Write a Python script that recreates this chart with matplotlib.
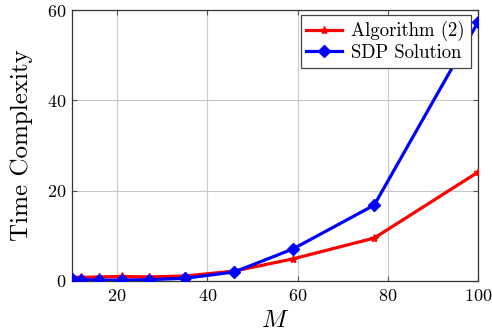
import matplotlib
matplotlib.use("Agg")
import matplotlib.pyplot as plt

# Runtime vs problem size M
M = [10, 12, 16, 21, 27, 35, 46, 59, 77, 100]
alg2 = [0.8, 0.8, 0.9, 1.0, 0.9, 1.1, 2.2, 4.9, 9.5, 24.1]
sdp = [0.5, 0.3, 0.2, 0.2, 0.3, 0.6, 2.0, 7.1, 16.8, 57.3]

plt.rcParams['font.family'] = 'cmr10'
plt.rcParams['mathtext.fontset'] = 'cm'
plt.rcParams['axes.formatter.use_mathtext'] = True

fig = plt.figure(figsize=(4.92, 3.36), dpi=100)
ax = fig.add_axes([0.1463, 0.1637, 0.8252, 0.8065])

ax.plot(M, alg2, color='red', lw=2.3, marker='*', ms=6, label='Algorithm (2)', zorder=3)
ax.plot(M, sdp, color='blue', lw=2.3, marker='D', ms=6.5, label='SDP Solution', zorder=4)

ax.set_xlim(10, 100)
ax.set_ylim(0, 60)
ax.set_xticks([20, 40, 60, 80, 100])
ax.set_yticks([0, 20, 40, 60])
ax.grid(True, color='#c8c8c8', lw=0.8)
ax.set_axisbelow(True)
ax.tick_params(direction='in', top=True, right=True, labelsize=13, color='#555555', pad=4)
ax.tick_params(axis='x', pad=5)
for s in ax.spines.values():
    s.set_color('#333333')
    s.set_linewidth(0.9)

ax.set_xlabel('$M$', fontsize=18, labelpad=4)
ax.set_ylabel('Time Complexity', fontsize=18, labelpad=10)

leg = ax.legend(loc='upper right', fontsize=13.5, fancybox=False, framealpha=1,
                edgecolor='#444444', handlelength=1.9, handletextpad=0.5,
                borderpad=0.3, labelspacing=0.15, borderaxespad=0,
                bbox_to_anchor=(0.982, 0.98))
leg.get_frame().set_linewidth(0.9)

fig.savefig('out.png', dpi=100)
